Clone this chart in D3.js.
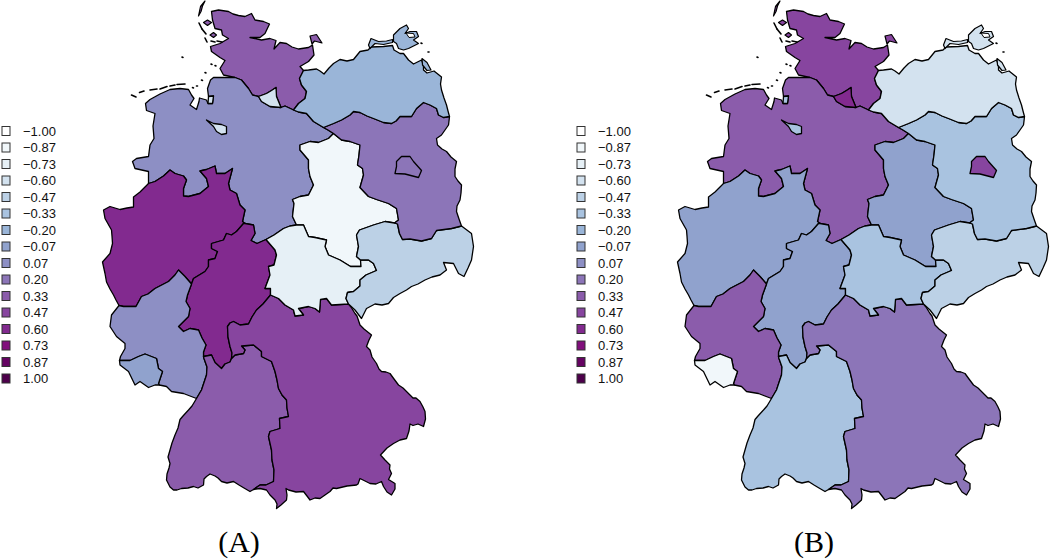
<!DOCTYPE html>
<html>
<head>
<meta charset="utf-8">
<script src="https://cdn.jsdelivr.net/npm/d3@7"></script>
<style>
  html, body { margin: 0; padding: 0; background: #fff; }
</style>
</head>
<body>
<div id="chart"></div>
<script>
// legend bins and colours
const legendValues = [-1, -0.87, -0.73, -0.6, -0.47, -0.33, -0.2, -0.07, 0.07, 0.2, 0.33, 0.47, 0.6, 0.73, 0.87, 1];
const legendLabels = ["\u22121.00", "\u22120.87", "\u22120.73", "\u22120.60", "\u22120.47", "\u22120.33", "\u22120.20", "\u22120.07", "0.07", "0.20", "0.33", "0.47", "0.60", "0.73", "0.87", "1.00"];
const legendColors = ["#ffffff", "#f1f7fa", "#e6f0f6", "#d3e2ef", "#bcd1e6", "#a9c3e0", "#9ab5d8", "#90a2cd", "#8d8fc4", "#8c75b8", "#8b5cab", "#87459f", "#822a8f", "#810f7c", "#650362", "#4d004b"];

// state values, panel A and B
const states = ["SH", "HH", "NI", "HB", "BRV", "NW", "HE", "RP", "SL", "BW", "BY", "ST", "TH", "SN", "BB", "BE", "MV"];
const valuesA = [0.33, -0.6, 0.07, -0.6, -0.6, 0.6, 0.6, 0.07, -0.07, 0.33, 0.47, -0.87, -0.73, -0.47, 0.2, 0.2, -0.2];
const valuesB = [0.47, 0.6, 0.33, -0.33, -0.33, -0.07, -0.07, 0.33, -0.87, -0.33, 0.2, -0.07, -0.33, -0.47, -0.33, 0.47, -0.6];
const captions = ["(A)", "(B)"];

// border lines in map grid units (east, north), shared between neighbours
const shCoast = [[135,442.5],[123.5,445],[120,451.5],[125,459.5],[120,462.5],[111.5,468.5],[110.5,473.5],[120,476.5],[128.5,481.5],[122.5,485],[121.5,490],[115,491.5],[112.5,500],[111.5,508.5],[118.5,510],[128.5,508.5],[133,506],[138.5,504.5],[145,503.5],[151.5,506.5],[155,500],[163.5,498.5],[169.5,496],[165,486.5],[160,482.5],[150,482.5],[161.5,480],[170,481.5],[176,479.5],[174,471],[180,477.5],[186.5,476.5],[192,473],[198.5,471],[208.5,472.5],[212.5,475],[214,465],[208.5,458.5],[200,453.5],[203.5,449.5]];
const shMv = [[203.5,449.5],[199.5,441.5],[201.5,435],[206.5,428.5],[205,421.5],[198.5,416.5],[193.5,410]];
const shNi = [[193.5,410],[185,414],[181,412.5]];
const shHh = [[181,412.5],[176.5,423.5],[176,432.5],[171.5,429.5],[166.5,426.5],[158.5,423.5]];
const hhNi = [[158.5,423.5],[161.5,418.5],[170,413.5],[181,412.5]];
const elbe = [[158.5,423.5],[152.5,425],[148.5,431.5],[141.5,440],[135,442.5]];
const niCoast = [[48.5,336.5],[48.5,348.5],[35,351.5],[32.5,358.5],[36.5,361.5],[48.5,363.5],[50,375],[54,381.5],[53,394],[55,406.5],[46.5,409.5],[45.5,416.5],[50,420.5],[60,426],[70,430.5],[80,431.5],[88.5,430.5],[91.5,425],[94,421.5],[90,415],[96.5,410.5],[99,418.5],[99.5,422],[106.5,420],[108,416.5],[112.5,416.5],[113.5,424],[108.5,423.5],[107.5,431.5],[110.5,440],[113.5,442.5],[123.5,442.5],[135,442.5]];
const mvNi = [[193.5,410],[198.5,408],[206.5,406.5],[213.5,398.5],[223.5,392.5]];
const niBb = [[223.5,392.5],[228,390],[233.5,386.5]];
const stNi = [[196.5,295],[192.5,303.5],[194,316.5],[192.5,320.5],[200,323.5],[208.5,325],[213.5,335],[210,343.5],[208.5,351.5],[208.5,360],[200,370],[200,375],[210,378.5],[218.5,377.5],[228.5,381.5],[233.5,386.5]];
const niTh = [[166,280.5],[174,285],[183.5,291.5],[190,294],[196.5,295]];
const heNi = [[145,296.5],[153.5,295],[155,286.5],[151,279.5],[157,276.5],[166,280.5]];
const nwNi = [[48.5,336.5],[55,338.5],[63.5,344],[70,350],[75,346.5],[83.5,344],[86.5,340],[83.5,331.5],[83.5,324],[88.5,323.5],[100,326.5],[108.5,333.5],[106.5,341.5],[100,349],[106.5,350.5],[115,354],[116.5,346.5],[125,346.5],[132.5,351.5],[128.5,336.5],[130,330],[136.5,326.5],[140,315],[145,310],[142.5,298.5],[145,296.5]];
const mvCoast = [[203.5,449.5],[208.5,450],[216.5,451],[220,449],[224,446],[229,452],[233.5,456.5],[240,460.5],[247,459],[253.5,460.5],[260,468.5],[268,470],[271,473],[283.5,473.5],[292.5,474.5],[294,470],[300,466.5],[303.5,466.5],[308.5,460],[313.5,456],[321.5,460],[323.5,455],[323.5,450],[327,447],[334,449],[341.5,443],[340.5,436],[341.5,430],[344,422],[346.5,415],[348,409],[349.5,403.5]];
const mvBb = [[223.5,392.5],[233.5,396.5],[241.5,400],[250,405],[253.5,408.5],[260,407.5],[267,404],[273.5,401.5],[283.5,397.5],[291.5,396.5],[296,399],[300,403.5],[311.5,403.5],[316.5,411.5],[323.5,417.5],[330,415],[336.5,411.5],[338.5,405],[343.5,402.5],[349.5,403.5]];
const bbEast = [[349.5,403.5],[349,399],[348.5,395],[345,390],[341.5,385],[336.5,381.5],[337.5,375],[342,371],[346.5,368.5],[351,363],[356.5,358.5],[355,351],[355,343.5],[358,339],[361.5,335],[361,327],[360,320],[357,314],[356.5,308.5],[359,301],[361.5,294]];
const bbSn = [[361.5,294],[351.5,291.5],[336.5,289.5],[331.5,281.5],[321.5,279],[310,281],[302.5,280.5],[299.5,286.5],[297.5,296],[294.5,297]];
const bbSt = [[294.5,297],[298.5,300],[296.5,311.5],[288.5,316.5],[276.5,320.5],[268.5,323.5],[260,332.5],[263.5,345],[262.5,351.5],[257.5,355],[259,365],[260,375],[250,378.5],[241.5,380],[233.5,386.5]];
const stSn = [[294.5,297],[285,298.5],[273.5,295],[259.5,290],[256.5,285],[258.5,273.5],[256.5,263.5],[260.5,260]];
const stTh = [[260.5,260],[261,253.5],[250.5,253.5],[240,260],[228.5,265],[225,273.5],[226.5,280],[215,282.5],[208.5,283.5],[203.5,295],[196.5,295]];
const thSn = [[260.5,260],[268.5,260],[273.5,256.5],[276.5,249.5],[266,245],[260,240],[260,234],[253.5,228.5],[247.5,227.5],[246,221.5],[248.5,216]];
const thBy = [[170.5,225],[178.5,221.5],[185,215],[193.5,210],[195,204],[203.5,205],[198.5,211.5],[208.5,213.5],[215,211.5],[219.5,208],[220.5,220.5],[226.5,221.5],[231.5,215],[240,215.5],[248.5,216]];
const heTh = [[166,280.5],[175,270],[176.5,265],[174,255],[168.5,253.5],[170,245],[165,231.5],[170.5,231.5],[170.5,225]];
const snSouth = [[248.5,216],[255,210],[261.5,201.5],[266.5,211.5],[275,216],[282,215],[288.5,216.5],[293.5,222.5],[300,226.5],[306.5,230],[311.5,233.5],[318,236],[325,240],[332,243],[340,245],[346.5,250],[343.5,257.5],[353.5,256.5],[358.5,246.5],[364,243.5],[368,252],[371.5,260],[373.5,273.5],[371.5,286.5],[361.5,294]];
const byEast = [[248.5,216],[251,213],[255,206.5],[257,204],[260,195],[264,191],[271.5,185],[269,180],[266.5,173.5],[270,170],[272,163],[276.5,156.5],[279,151],[281.5,148.5],[286,148],[290,146.5],[294,141],[298.5,135],[303,132],[308.5,126.5],[313,122],[316,122],[320,118.5],[323,113],[325,108.5],[325.5,101],[323.5,93.5],[318,96],[313,94.5],[310,96],[309,89],[306.5,81.5],[300,80],[293.5,76.5],[287,72],[280.5,65],[285,60],[290,55],[289.5,51],[291.5,46.5],[288.5,40.5],[295,36.5],[295,31],[291.5,25],[287,28],[283.5,33.5],[281.5,38.5],[276,36],[270,36.5],[265,39],[260,41.5],[258,36],[256.5,35],[247,34],[236.5,31.5],[233,32],[230,28.5],[225,25],[220,21.5],[215,22],[210,20],[207,24],[203.5,28.5],[196,28],[188.5,30],[186,31.5],[187,25],[186.5,20],[181,15],[176.5,11.5],[177,16],[175,20],[170,25],[166.5,30],[160,31.5],[153.5,30.5]];
const byBw = [[153.5,30.5],[160,35],[166,35],[173.5,38.5],[174,50],[172,60],[171.5,70],[168.5,83.5],[170,88.5],[180,91.5],[179.5,101.5],[188.5,103.5],[187,112],[186.5,120],[182,125],[178.5,131.5],[177,140],[175,148.5],[171.5,158.5],[161.5,163.5],[161.5,168.5],[153.5,175],[141.5,174],[145,170],[143.5,166.5],[135,165],[131.5,161.5]];
const heBy = [[131.5,161.5],[132,167],[130,173.5],[128,183],[127.5,193.5],[130,197],[133.5,198.5],[140,195],[148.5,196],[152,203],[156.5,210],[163,216],[170.5,225]];
const bwSouth = [[153.5,30.5],[150,28.5],[144,32],[139,35],[133.5,38.5],[127,37],[121.5,38.5],[118,42],[115,44],[110,46],[106.5,43.5],[104,41],[103.5,35],[98,32],[93.5,33.5],[88,32],[81.5,31.5],[77,30],[73.5,30],[70,33],[66.5,40],[67,46],[69,52],[70,56.5],[68,63],[70,70],[72,77],[75,85],[78,92],[80,100.5],[83,104],[88.5,110],[92,114],[96.5,121.5]];
const rpBw = [[96.5,121.5],[101.5,130],[106.5,145],[107,153],[104,161.5],[103.5,163.5]];
const heBw = [[103.5,163.5],[111.5,165],[115,157.5],[121.5,151.5],[125,156],[130,158],[131.5,161.5]];
const nwHe = [[145,296.5],[143.5,296.5],[136.5,288.5],[131.5,285],[126.5,286.5],[123.5,280],[111.5,276.5],[111.5,271.5],[117.5,268.5],[115,261.5],[108.5,260],[108.5,253.5],[105,248.5],[93.5,241.5],[91.5,236]];
const heRp = [[91.5,236],[87.5,225],[86,218.5],[90,211.5],[88.5,203.5],[81.5,196.5],[78.5,193.5],[83.5,188.5],[90,191.5],[98.5,190],[102,182],[106,175],[103.5,168],[103.5,163.5]];
const nwRp = [[91.5,236],[85,243.5],[78.5,250],[75,245],[68.5,238.5],[55,231.5],[48,226],[41.5,223.5],[36,213.5],[23.5,213.5],[19,214.5]];
const nwWest = [[19,214.5],[16,220],[13.5,225],[10,231],[6.5,238],[5,246.5],[2.5,258],[10,266.5],[12.5,276.5],[12,284],[11.5,290],[5,301.5],[3.5,310],[10,313.5],[20,310.5],[27,312],[33.5,313],[33.5,323],[40,328],[45,333],[48.5,336.5]];
const rpSouth = [[96.5,121.5],[83.5,126.5],[71.5,128.5],[66.5,133.5],[59.5,135]];
const rpSl = [[59.5,135],[58.5,136.5],[62.5,148.5],[58.5,151.5],[56.5,161.5],[45,166],[38.5,163.5],[30,159.5],[19.5,159.5]];
const slSouth = [[59.5,135],[55,135],[48.5,132.5],[40,138.5],[35,135],[28.5,148.5],[20,155],[19.5,159.5]];
const rpWest = [[19.5,159.5],[20.5,163.5],[25,171.5],[25,176.5],[16.5,183.5],[10,193.5],[11.5,205],[19,214.5]];

// city states that sit inside a neighbour
const bremen = [[106.5,400],[113.5,396.5],[121.5,395.5],[126.5,393.5],[126.5,386.5],[121.5,385.5],[116.5,388.5],[113.5,393.5]];
const bremerhaven = [[108.5,423.5],[113.5,424],[112.5,416.5],[108,416.5]];
const berlin = [[296.5,358.5],[301.5,363.5],[310,363.5],[313.5,358.5],[321.5,349.5],[318.5,342.5],[305,346],[295,346.5],[296.5,353.5]];

// islands, with the state that colours them
const fehmarn = [[212,476],[210,484],[216.5,485.5],[222,477],[214.5,479]];
const sylt = [[105,519],[100.5,513.5],[98.5,504],[101,508.5],[102.5,514]];
const foehr = [[103.5,497.5],[107.5,500],[111.5,497.5],[107.5,494.5]];
const pellworm = [[110,485],[113.5,487.5],[116.5,485],[113.5,482.5]];
const ruegen = [[293.5,485],[300,491.5],[306.5,495],[308.5,491.5],[305,486.5],[310,488.5],[316.5,488.5],[318.5,483.5],[313.5,480],[318.5,476.5],[313.5,474],[308.5,471.5],[303.5,470],[298.5,471.5],[296.5,476.5],[293.5,478.5]];
const darss = [[268.5,475],[271,481.5],[278.5,478.5],[286.5,479],[292.5,480.5],[292.5,477.5],[283.5,475.5],[275,476.5],[270,471.5]];
const usedom = [[322,461.5],[327,457.5],[331,450],[327,449.5],[322.5,455]];
const islandShapes = [["SH", fehmarn], ["SH", sylt], ["SH", foehr], ["SH", pellworm], ["MV", ruegen], ["MV", darss], ["MV", usedom]];
const lagoon = [[306,487],[313.5,486.5],[315,483],[309,482.5]];

// tiny black coastal bits
const coastBits = [
  [[82,463],[83,462.5]], [[111,456],[112,455.5]], [[115,454.5],[116,454]], [[105,447.5],[106,447]], [[101.5,440],[102.5,439.5]],
  [[92.5,432.5],[93.5,432]], [[96.5,434],[97.5,434]], [[70,434],[75,435]], [[77,435.5],[85,436]], [[60,431],[67,433.5]], [[50,430],[57,431]],
  [[31.5,425],[36,423]], [[39.5,427.5],[44,429]], [[99,497],[102,491]], [[102,491],[106,486]], [[105,482],[107,478]], [[111,479],[115,478]], [[117,479],[122,478]],
  [[321,477],[322,476.5]], [[328,468],[329,468]]
];

// each ring is a list of border lines, [line, -1] walks a line backwards
const stateRings = {
  SH: [shCoast, shMv, shNi, shHh, elbe],
  HH: [shHh, hhNi],
  NI: [niCoast, [elbe, -1], hhNi, [shNi, -1], mvNi, niBb, [stNi, -1], [niTh, -1], [heNi, -1], [nwNi, -1]],
  NW: [nwNi, nwHe, nwRp, nwWest],
  HE: [nwHe, heRp, heBw, heBy, [heTh, -1], [heNi, -1]],
  RP: [[nwRp, -1], heRp, [rpBw, -1], rpSouth, rpSl, rpWest],
  SL: [[rpSl, -1], slSouth],
  BW: [[byBw, -1], bwSouth, rpBw, heBw],
  BY: [thBy, byEast, byBw, heBy],
  ST: [bbSt, [stNi, -1], [stTh, -1], [stSn, -1]],
  TH: [niTh, [stTh, -1], thSn, [thBy, -1], [heTh, -1]],
  SN: [[stSn, -1], [bbSn, -1], [snSouth, -1], [thSn, -1]],
  BB: [mvBb, bbEast, bbSn, bbSt, [niBb, -1]],
  MV: [mvCoast, [mvBb, -1], [mvNi, -1], [shMv, -1]],
  HB: [bremen],
  BRV: [bremerhaven],
  BE: [berlin]
};

function ringPoints(parts) {
  let pts = [];
  parts.forEach(p => {
    if (typeof p[1] === "number") {
      pts = pts.concat(p[0].slice().reverse());
    } else {
      pts = pts.concat(p);
    }
  });
  return pts;
}

const width = 1050, height = 560;
const panelShift = 575;
const color = d3.scaleOrdinal().domain(legendValues).range(legendColors);

const svg = d3.select("#chart")
  .append("svg")
  .attr("width", width)
  .attr("height", height)
  .style("display", "block")
  .style("background", "#fff");

const drawOrder = ["SH", "NI", "NW", "HE", "RP", "SL", "BW", "BY", "ST", "TH", "SN", "BB", "MV", "HH", "HB", "BRV", "BE"];

function drawPanel(shift, values, caption) {
  const g = svg.append("g");
  const value = d3.scaleOrdinal().domain(states).range(values);
  const x = d3.scaleLinear().domain([0, 330]).range([100 + shift, 430 + shift]);
  const y = d3.scaleLinear().domain([0, 520]).range([520, 0]);
  const line = d3.line().x(d => x(d[0])).y(d => y(d[1]));

  g.selectAll("path.state")
    .data(drawOrder)
    .join("path")
    .attr("class", "state")
    .attr("d", d => line(ringPoints(stateRings[d])) + "Z")
    .attr("fill", d => color(value(d)))
    .attr("stroke", "#000")
    .attr("stroke-width", 1.3)
    .attr("stroke-linejoin", "round");

  g.selectAll("path.island")
    .data(islandShapes)
    .join("path")
    .attr("class", "island")
    .attr("d", d => line(d[1]) + "Z")
    .attr("fill", d => color(value(d[0])))
    .attr("stroke", "#000")
    .attr("stroke-width", 1.2)
    .attr("stroke-linejoin", "round");

  g.append("path")
    .attr("d", line(lagoon) + "Z")
    .attr("fill", "#fff")
    .attr("stroke", "#000")
    .attr("stroke-width", 1);

  g.selectAll("path.bit")
    .data(coastBits)
    .join("path")
    .attr("class", "bit")
    .attr("d", d => line(d))
    .attr("fill", "none")
    .attr("stroke", "#000")
    .attr("stroke-width", 1.6)
    .attr("stroke-linecap", "round");

  // legend
  const ly = d3.scalePoint().domain(legendLabels).range([131, 378.5]);
  const legend = g.append("g").attr("transform", "translate(" + shift + ",0)");
  legend.selectAll("rect")
    .data(legendLabels)
    .join("rect")
    .attr("x", 2)
    .attr("y", d => ly(d) - 4.5)
    .attr("width", 8)
    .attr("height", 9)
    .attr("fill", (d, i) => legendColors[i])
    .attr("stroke", "#333")
    .attr("stroke-width", 1);
  legend.selectAll("text")
    .data(legendLabels)
    .join("text")
    .attr("x", 23)
    .attr("y", d => ly(d) + 4.5)
    .attr("font-family", "'Liberation Sans', Arial, sans-serif")
    .attr("font-size", 13)
    .attr("fill", "#111")
    .text(d => d);

  g.append("text")
    .attr("x", 239 + shift)
    .attr("y", 552)
    .attr("text-anchor", "middle")
    .attr("font-family", "'Liberation Serif', 'Times New Roman', serif")
    .attr("font-size", 30)
    .attr("fill", "#000")
    .text(caption);
}

drawPanel(0, valuesA, captions[0]);
drawPanel(panelShift, valuesB, captions[1]);
</script>
</body>
</html>
